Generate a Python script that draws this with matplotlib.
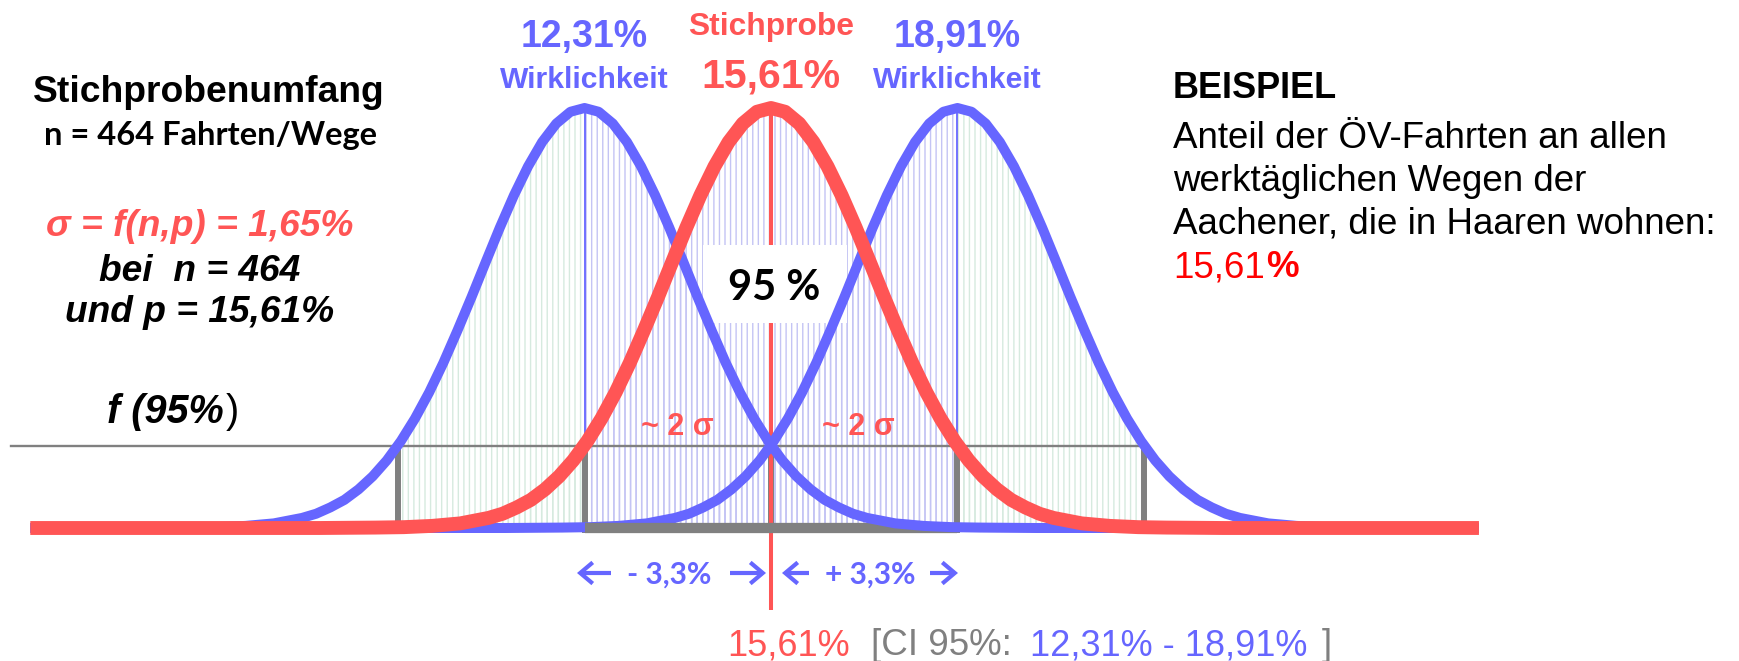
import numpy as np
import matplotlib
matplotlib.use("Agg")
import matplotlib.pyplot as plt
from matplotlib.patches import Rectangle, FancyArrowPatch
from matplotlib.transforms import IdentityTransform

# ---------------- data ----------------
stichprobe_p = 15.61          # sample share (%)
ci_low = 12.31                # lower "Wirklichkeit"
ci_high = 18.91               # upper "Wirklichkeit"
ci_half = 3.3                 # ~2 sigma (%-points)
sigma_pct = 1.65
n_sample = 464
f95_level = 0.195             # relative height of the f(95%) line
# bell shape: offset from centre (%-points) -> relative height
profile_offset = [0.0, 0.25, 0.5, 0.75, 1.0, 1.25, 1.5, 1.75, 2.0, 2.25, 2.5, 2.75,
                  3.0, 3.25, 3.5, 3.75, 4.0, 4.25, 4.5, 4.75, 5.0, 5.5, 6.0, 6.5,
                  7.0, 8.0, 17.0]
profile_height = [1.000, 0.991, 0.963, 0.919, 0.861, 0.792, 0.715, 0.633, 0.550,
                  0.470, 0.393, 0.323, 0.261, 0.207, 0.161, 0.123, 0.092, 0.067,
                  0.049, 0.034, 0.024, 0.011, 0.005, 0.002, 0.001, 0.0, 0.0]
curve_range = [2.5, 28.14]
line_start = 2.16

BLUE = "#6666ff"
RED = "#ff5555"
GRAY = "#808080"
LAV = "#c4c4f4"
PALE = "#d6eadf"

W, H = 1740, 661
fig = plt.figure(figsize=(W / 100, H / 100), dpi=100)
ax = fig.add_axes([0, 0, 1, 1])
ax.set_axis_off()
px_per_pct, x0_px = 56.5, 771
px_per_unit, y0_px = 420, 528
ax.set_xlim(stichprobe_p - x0_px / px_per_pct, stichprobe_p + (W - x0_px) / px_per_pct)
ax.set_ylim(-(H - y0_px) / px_per_unit, y0_px / px_per_unit)

off = np.array(profile_offset)
hh = np.array(profile_height)
full_off = np.concatenate([-off[::-1], off[1:]])
full_h = np.concatenate([hh[::-1], hh[1:]])


def curve(c):
    x = c + full_off
    m = (x > curve_range[0]) & (x < curve_range[1])
    xs = np.concatenate([[curve_range[0]], x[m], [curve_range[1]]])
    ys = np.concatenate([[0.0], full_h[m], [0.0]])
    return xs, ys


centers = [ci_low, stichprobe_p, ci_high]
curves = {c: curve(c) for c in centers}

plt.rcParams["hatch.linewidth"] = 1.0


def hatch_under(c, xa, xb, color):
    xs, ys = curves[c]
    poly = ax.fill_between(xs, 0, ys, facecolor="none", edgecolor=color,
                           hatch="|||", linewidth=0, zorder=1)
    rect = Rectangle((xa, -0.05), xb - xa, 1.3, transform=ax.transData)
    poly.set_clip_path(rect)


for c in centers:
    hatch_under(c, ci_low, ci_high, LAV)
    hatch_under(c, ci_low - ci_half, ci_low, PALE)
    hatch_under(c, ci_high, ci_high + ci_half, PALE)

# gray reference lines
ax.plot([line_start, ci_high + ci_half], [f95_level, f95_level], color=GRAY, lw=1.7, zorder=2)
for k in (-2, -1, 0, 1, 2):
    xv = stichprobe_p + k * ci_half
    ax.plot([xv, xv], [-0.012, f95_level], color=GRAY, lw=4.3,
            solid_capstyle="butt", zorder=2)
for c in (ci_low, ci_high):
    ax.plot([c, c], [f95_level, 1.0], color=BLUE, lw=1.3, zorder=2)
ax.plot([stichprobe_p, stichprobe_p], [-0.195, 1.0], color=RED, lw=2.9,
        solid_capstyle="butt", zorder=2)

# white box behind "95 %"
ax.add_patch(Rectangle((stichprobe_p - 68 / px_per_pct, 0.488), 144 / px_per_pct, 0.186,
                       facecolor="white", edgecolor="none", zorder=3))

# curves
xs, ys = curves[ci_high]
ax.plot(xs, ys, color=BLUE, lw=7.2, solid_capstyle="butt", solid_joinstyle="round", zorder=4)
ax.plot([ci_low, ci_high], [0.0, 0.0], color=GRAY, lw=7.4, solid_capstyle="butt", zorder=4.5)
xs, ys = curves[ci_low]
ax.plot(xs, ys, color=BLUE, lw=7.2, solid_capstyle="butt", solid_joinstyle="round", zorder=5)
xs, ys = curves[stichprobe_p]
ax.plot(xs, ys, color=RED, lw=10.0, solid_capstyle="butt", solid_joinstyle="round", zorder=6)

# ---------------- texts ----------------
ARIAL = ["Liberation Sans", "DejaVu Sans"]
CAL = ["Lato", "DejaVu Sans"]
ID = IdentityTransform()


def T(x, yb, s, **kw):
    kw.setdefault("family", ARIAL)
    kw.setdefault("ha", "center")
    return fig.text(x, H - yb, s, transform=ID, va="baseline", zorder=10, **kw)


def xpx(v):
    return x0_px + (v - stichprobe_p) * px_per_pct


def fmt(v):
    return f"{v:.2f}".replace(".", ",") + "%"


# left block
T(209, 102, "Stichprobenumfang", fontsize=26.8, weight="bold")
T(210, 145, f"n = {n_sample} Fahrten/Wege", fontsize=23.5, weight="bold", family=CAL)
T(200, 236, "σ = f(n,p) = " + f"{sigma_pct:.2f}".replace(".", ",") + "%",
  fontsize=26.7, weight="bold", style="italic", color=RED)
T(200, 281, f"bei  n = {n_sample}", fontsize=26.7, weight="bold", style="italic")
T(200, 322, "und p = " + fmt(stichprobe_p), fontsize=26.7, weight="bold", style="italic")

renderer = fig.canvas.get_renderer()
t1 = T(107, 423, "f (95%", fontsize=28.5, weight="bold", style="italic", ha="left")
bb = t1.get_window_extent(renderer)
T(bb.x1 + 2, 423, ")", fontsize=28.5, ha="left")

# top labels
T(xpx(ci_low), 47, fmt(ci_low), fontsize=27, weight="bold", color=BLUE)
T(xpx(ci_low), 88, "Wirklichkeit", fontsize=21.7, weight="bold", color=BLUE)
T(xpx(ci_high), 47, fmt(ci_high), fontsize=27, weight="bold", color=BLUE)
T(xpx(ci_high), 88, "Wirklichkeit", fontsize=21.7, weight="bold", color=BLUE)
T(xpx(stichprobe_p), 35, "Stichprobe", fontsize=22.9, weight="bold", color=RED)
T(xpx(stichprobe_p), 87, fmt(stichprobe_p), fontsize=29.5, weight="bold", color=RED)

# 95 %
T(774, 300, "95 %", fontsize=30, weight="bold", family=CAL)

# ~2 sigma
T(677, 435, "~ 2 σ", fontsize=22, weight="bold", color=RED)
T(858, 435, "~ 2 σ", fontsize=22, weight="bold", color=RED)

# arrows and +/- 3,3 %
for xa, xb in [(611, 577), (730, 766), (809, 782), (930, 958)]:
    ar = FancyArrowPatch((xa, H - 573), (xb, H - 573), transform=ID,
                         arrowstyle="->,head_length=0.45,head_width=0.38",
                         mutation_scale=20, lw=3.0, color=BLUE,
                         shrinkA=0, shrinkB=0, capstyle="butt", joinstyle="miter")
    fig.add_artist(ar)
half_txt = f"{ci_half:.1f}".replace(".", ",") + "%"
T(669, 584, "- " + half_txt, fontsize=21.5, weight="bold", color=BLUE, family=CAL)
T(870, 584, "+ " + half_txt, fontsize=21.5, weight="bold", color=BLUE, family=CAL)

# bottom CI line
T(727, 655, fmt(stichprobe_p), fontsize=26, color=RED, ha="left")
T(871, 655, "[CI 95%:", fontsize=26.5, color=GRAY, ha="left")
T(1030, 655, fmt(ci_low) + " - " + fmt(ci_high), fontsize=26, color=BLUE, ha="left")
T(1322, 655, "]", fontsize=26, color=GRAY, ha="left")

# right block
T(1173, 98, "BEISPIEL", fontsize=26, weight="bold", ha="left")
T(1173, 148, "Anteil der ÖV-Fahrten an allen", fontsize=26.5, ha="left")
T(1173, 191, "werktäglichen Wegen der", fontsize=26.5, ha="left")
T(1173, 234, "Aachener, die in Haaren wohnen:", fontsize=26.5, ha="left")
t2 = T(1173, 277, f"{stichprobe_p:.2f}".replace(".", ","), fontsize=26.5, ha="left", color="#ff0000")
bb = t2.get_window_extent(renderer)
T(bb.x1 + 1, 277, "%", fontsize=26.5, ha="left", weight="bold", color="#ff0000")

fig.savefig("out.png", dpi=100)
